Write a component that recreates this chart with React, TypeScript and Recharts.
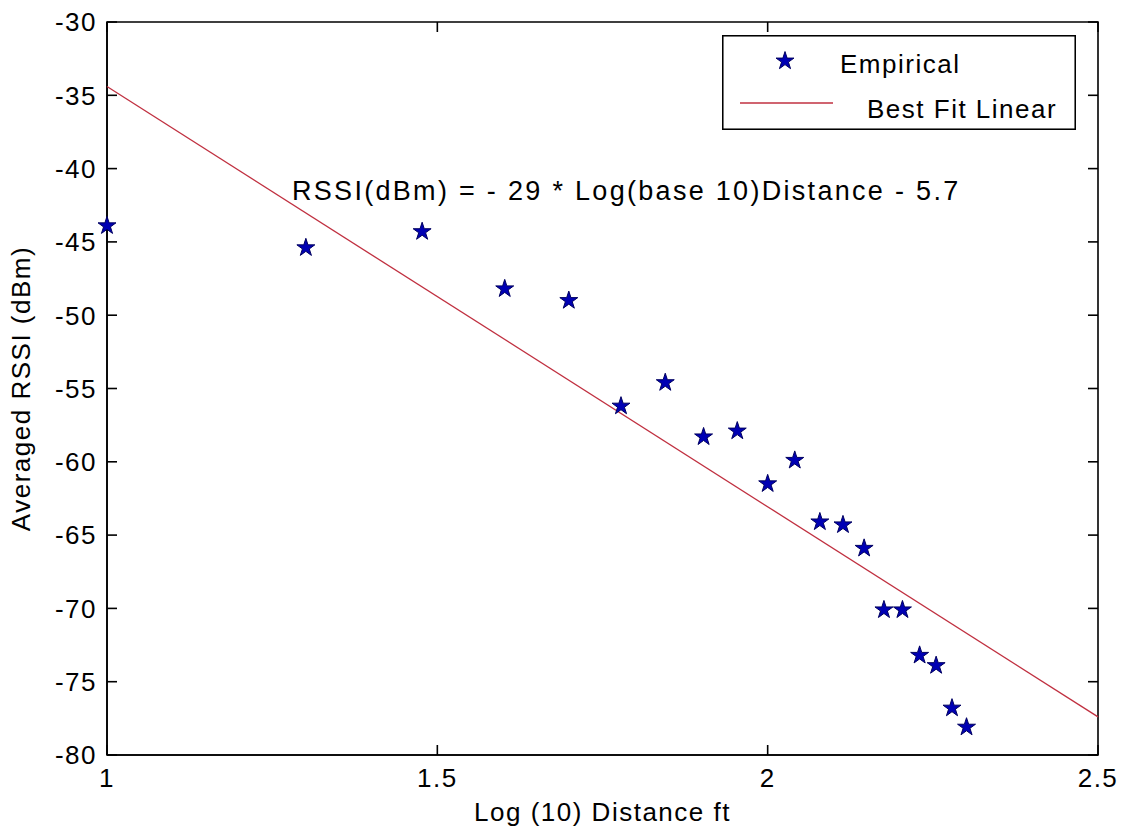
import {
  ScatterChart,
  Scatter,
  XAxis,
  YAxis,
  Legend,
  ReferenceDot,
  ReferenceArea,
  Symbols,
} from "recharts";

const logDistance = [
  1, 1.301, 1.477, 1.602, 1.699, 1.778, 1.845, 1.903, 1.954, 2, 2.041, 2.079,
  2.114, 2.146, 2.176, 2.204, 2.23, 2.255, 2.279, 2.301,
];
const avgRssi = [
  -43.9, -45.4, -44.3, -48.2, -49.0, -56.2, -54.6, -58.3, -57.9, -61.5, -59.9,
  -64.1, -64.3, -65.9, -70.1, -70.1, -73.2, -73.9, -76.8, -78.1,
];
const fitX = [1, 2.5];
const fitY = [-34.4, -77.4];
const xTicks = [1, 1.5, 2, 2.5];
const yTicks = [-80, -75, -70, -65, -60, -55, -50, -45, -40, -35, -30];
const equation = "RSSI(dBm) = - 29 * Log(base 10)Distance - 5.7";

const empirical = logDistance.map((x, i) => ({ x, y: avgRssi[i] }));
const fit = fitX.map((x, i) => ({ x, y: fitY[i] }));

const W = 1128;
const H = 837;
// plot box
const LEFT = 107;
const RIGHT = 1098;
const TOP = 22;
const BOTTOM = 755;

const FONT = "'Liberation Sans', Arial, sans-serif";
const STAR = "#0000b4";
const RED = "#c03040";
const TICK = 10; // inward tick length
const STAR_SIZE = 100;

const textProps = { fontSize: 26, fontFamily: FONT, letterSpacing: 1.5, fill: "#000" };
const tickLine = { stroke: "#000", strokeWidth: 1.6 };

// matlab style: ticks point inward, on both sides of the box
function BottomTick(props: any) {
  const x = props.payload.coordinate;
  return (
    <g>
      <line x1={x} x2={x} y1={BOTTOM} y2={BOTTOM - TICK} {...tickLine} />
      <line x1={x} x2={x} y1={TOP} y2={TOP + TICK} {...tickLine} />
      <text x={x} y={BOTTOM + 13} dy="0.72em" textAnchor="middle" {...textProps}>
        {props.payload.value}
      </text>
    </g>
  );
}

function LeftTick(props: any) {
  const y = props.payload.coordinate;
  return (
    <g>
      <line x1={LEFT} x2={LEFT + TICK} y1={y} y2={y} {...tickLine} />
      <line x1={RIGHT} x2={RIGHT - TICK} y1={y} y2={y} {...tickLine} />
      <text x={LEFT - 10} y={y} dy="0.36em" textAnchor="end" {...textProps}>
        {props.payload.value}
      </text>
    </g>
  );
}

function StarMark(props: any) {
  return (
    <Symbols
      type="star"
      size={STAR_SIZE}
      cx={props.cx}
      cy={props.cy}
      fill={STAR}
      stroke="#000060"
      strokeWidth={1}
    />
  );
}

function LegendBox() {
  return (
    <svg width={354} height={95}>
      <rect x={0.75} y={0.75} width={352.5} height={93.5} fill="#fff" stroke="#000" strokeWidth={1.6} />
      <StarMark cx={63} cy={26} />
      <line x1={18} y1={68} x2={111} y2={68} stroke={RED} strokeWidth={1.3} />
      <text x={118} y={38} {...textProps}>
        Empirical
      </text>
      <text x={145} y={83} {...textProps}>
        Best Fit Linear
      </text>
    </svg>
  );
}

export default function App() {
  return (
    <div style={{ position: "absolute", left: 0, top: 0, width: W, height: H, background: "#fff" }}>
      <ScatterChart width={W} height={H} margin={{ top: TOP, right: W - RIGHT, bottom: 0, left: 0 }}>
        <XAxis
          type="number"
          dataKey="x"
          domain={[1, 2.5]}
          ticks={xTicks}
          height={H - BOTTOM}
          tickLine={false}
          tick={BottomTick}
          stroke="#000"
          strokeWidth={1.6}
          label={{
            content: ({ viewBox }: any) => (
              <text x={viewBox.x + viewBox.width / 2} y={BOTTOM + 66} textAnchor="middle" {...textProps}>
                Log (10) Distance ft
              </text>
            ),
          }}
        />
        <YAxis
          type="number"
          dataKey="y"
          domain={[-80, -30]}
          ticks={yTicks}
          width={LEFT}
          tickLine={false}
          tick={LeftTick}
          stroke="#000"
          strokeWidth={1.6}
          label={{
            content: ({ viewBox }: any) => {
              const cy = viewBox.y + viewBox.height / 2;
              return (
                <text x={30} y={cy} transform={`rotate(-90 30 ${cy})`} textAnchor="middle" {...textProps}>
                  Averaged RSSI (dBm)
                </text>
              );
            },
          }}
        />
        {/* box round the plot */}
        <ReferenceArea x1={1} x2={2.5} y1={-80} y2={-30} fill="none" stroke="#000" strokeWidth={1.6} />
        <Scatter
          name="Best Fit Linear"
          data={fit}
          line={{ stroke: RED, strokeWidth: 1.3 }}
          shape={() => <g />}
          isAnimationActive={false}
        />
        <Scatter name="Empirical" data={empirical} shape={StarMark} isAnimationActive={false} />
        <ReferenceDot
          x={1.28}
          y={-41.5}
          r={0}
          fill="none"
          stroke="none"
          label={{
            content: ({ viewBox }: any) => (
              <text
                x={viewBox.x}
                y={viewBox.y}
                dy="0.36em"
                fontSize={27}
                fontFamily={FONT}
                letterSpacing={2.3}
                fill="#000"
              >
                {equation}
              </text>
            ),
          }}
        />
        <Legend
          layout="horizontal"
          verticalAlign="middle"
          align="center"
          content={() => <LegendBox />}
          wrapperStyle={{ position: "absolute", left: 722, top: 35, width: 354, height: 95 }}
        />
      </ScatterChart>
    </div>
  );
}
